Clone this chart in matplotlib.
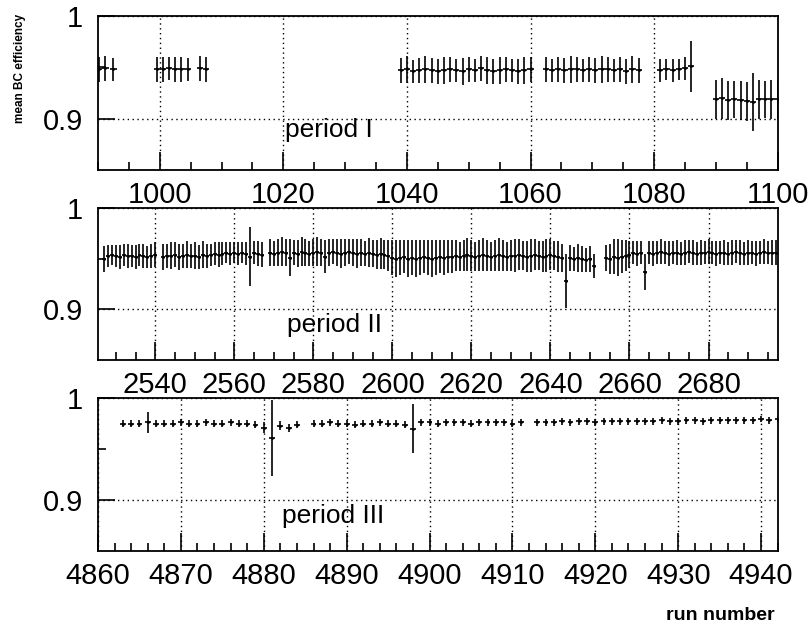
import numpy as np
import matplotlib
matplotlib.use("Agg")
import matplotlib.pyplot as plt
from matplotlib.ticker import MultipleLocator, FixedLocator, FixedFormatter

plt.rcParams['font.family'] = ['Liberation Sans', 'DejaVu Sans']

# ---- period I : run numbers, efficiency, error ----
p1_runs = np.concatenate([
    [990.2, 991.2, 992.5],
    np.arange(999.5, 1005),
    [1006.5, 1007.5],
    np.arange(1039, 1061),
    np.arange(1062.5, 1078),
    np.arange(1081, 1087),
    np.arange(1090, 1101),
])
p1_eff = [
    0.948, 0.949, 0.948,
    0.948, 0.948, 0.949, 0.948, 0.948, 0.948,
    0.949, 0.948,
    0.947, 0.948, 0.946, 0.947, 0.948, 0.947, 0.946, 0.947, 0.948, 0.947, 0.946,
    0.948, 0.947, 0.949, 0.947, 0.946, 0.947, 0.948, 0.947, 0.946, 0.947, 0.948,
    0.948, 0.947, 0.948, 0.947, 0.948, 0.948, 0.947, 0.948,
    0.947, 0.948, 0.948, 0.947, 0.948, 0.946, 0.948, 0.947,
    0.947, 0.948, 0.947, 0.948, 0.949, 0.951,
    0.919, 0.920, 0.918, 0.919, 0.918, 0.917, 0.916, 0.919, 0.919, 0.919, 0.919,
]
p1_err = [
    0.012, 0.012, 0.011,
    0.012, 0.012, 0.011, 0.012, 0.012, 0.011,
    0.012, 0.012,
    0.012, 0.013, 0.011, 0.012, 0.013, 0.012, 0.012, 0.013, 0.012, 0.011, 0.013,
    0.012, 0.011, 0.012, 0.013, 0.012, 0.013, 0.012, 0.011, 0.012, 0.013, 0.012,
    0.012, 0.011, 0.012, 0.012, 0.013, 0.012, 0.011, 0.012,
    0.012, 0.013, 0.012, 0.011, 0.012, 0.012, 0.013, 0.012,
    0.011, 0.010, 0.011, 0.010, 0.011, 0.025,
    0.019, 0.020, 0.019, 0.018, 0.019, 0.019, 0.028, 0.019, 0.018, 0.019, 0.019,
]

# ---- period II ----
p2_runs = np.concatenate([
    np.arange(2527, 2541),
    np.arange(2542, 2568),
    np.arange(2569, 2652),
    np.arange(2654, 2698),
])
p2_eff = [
    # 2527-2540
    0.950, 0.953, 0.954, 0.953, 0.952, 0.954, 0.953, 0.953, 0.952, 0.954, 0.953, 0.952, 0.953, 0.954,
    # 2542-2567
    0.952, 0.953, 0.953, 0.954, 0.952, 0.953, 0.954, 0.953, 0.953, 0.952, 0.954, 0.953, 0.954,
    0.955, 0.954, 0.955, 0.956, 0.955, 0.956, 0.955, 0.956, 0.955, 0.952, 0.956, 0.955, 0.954,
    # 2569-2599
    0.956, 0.955, 0.956, 0.957, 0.956, 0.951, 0.956, 0.955, 0.957, 0.956, 0.955, 0.956, 0.957,
    0.956, 0.952, 0.956, 0.957, 0.956, 0.955, 0.956, 0.957, 0.956, 0.955, 0.956, 0.955, 0.956,
    0.955, 0.954, 0.955, 0.954, 0.953,
    # 2600-2615
    0.951, 0.950, 0.951, 0.952, 0.950, 0.951, 0.950, 0.951, 0.952, 0.951, 0.950, 0.951, 0.952,
    0.951, 0.952, 0.952,
    # 2616-2643
    0.953, 0.952, 0.953, 0.954, 0.953, 0.952, 0.953, 0.954, 0.953, 0.952, 0.953, 0.954, 0.953,
    0.952, 0.953, 0.953, 0.954, 0.953, 0.952, 0.953, 0.954, 0.953, 0.952, 0.953, 0.954, 0.953,
    0.952, 0.951,
    # 2644-2651
    0.928, 0.951, 0.950, 0.951, 0.950, 0.949, 0.950, 0.943,
    # 2654-2660
    0.951, 0.950, 0.952, 0.951, 0.952, 0.953, 0.954,
    # 2661-2697
    0.956, 0.955, 0.956, 0.937, 0.956, 0.955, 0.956, 0.957, 0.956, 0.955, 0.956, 0.956, 0.955,
    0.956, 0.957, 0.956, 0.955, 0.956, 0.956, 0.957, 0.956, 0.955, 0.956, 0.956, 0.955, 0.956,
    0.957, 0.956, 0.955, 0.956, 0.956, 0.955, 0.956, 0.957, 0.956, 0.956, 0.956,
]
p2_err = [
    0.013, 0.011, 0.010, 0.011, 0.012, 0.011, 0.012, 0.011, 0.012, 0.011, 0.012, 0.011, 0.012, 0.012,
    0.013, 0.012, 0.013, 0.012, 0.013, 0.012, 0.013, 0.012, 0.013, 0.012, 0.013, 0.012, 0.011,
    0.011, 0.012, 0.011, 0.010, 0.011, 0.010, 0.011, 0.010, 0.011, 0.029, 0.011, 0.012, 0.012,
    0.013, 0.012, 0.013, 0.014, 0.013, 0.018, 0.012, 0.013, 0.014, 0.013, 0.012, 0.013, 0.014,
    0.013, 0.016, 0.013, 0.012, 0.013, 0.014, 0.013, 0.012, 0.013, 0.014, 0.013, 0.012, 0.014,
    0.013, 0.014, 0.015, 0.014, 0.015,
    0.017, 0.018, 0.017, 0.016, 0.018, 0.017, 0.018, 0.017, 0.016, 0.017, 0.018, 0.017, 0.016,
    0.017, 0.016, 0.016,
    0.015, 0.014, 0.015, 0.016, 0.015, 0.014, 0.015, 0.016, 0.015, 0.014, 0.015, 0.016, 0.015,
    0.014, 0.015, 0.016, 0.015, 0.014, 0.015, 0.016, 0.015, 0.014, 0.015, 0.016, 0.015, 0.014,
    0.015, 0.014,
    0.027, 0.013, 0.012, 0.014, 0.013, 0.012, 0.013, 0.012,
    0.013, 0.015, 0.017, 0.018, 0.016, 0.015, 0.013,
    0.011, 0.012, 0.011, 0.018, 0.011, 0.012, 0.011, 0.012, 0.011, 0.012, 0.011, 0.012, 0.011,
    0.012, 0.011, 0.012, 0.011, 0.012, 0.011, 0.012, 0.011, 0.012, 0.011, 0.012, 0.011, 0.012,
    0.011, 0.012, 0.011, 0.012, 0.011, 0.012, 0.011, 0.012, 0.011, 0.012, 0.012,
]

# ---- period III ----
p3_runs = np.concatenate([
    [4863],
    np.arange(4864, 4885),
    np.arange(4886, 4912),
    np.arange(4913, 4943),
])
p3_eff = [
    0.975,
    0.975, 0.975, 0.976, 0.975, 0.975, 0.975, 0.976, 0.975, 0.975, 0.976, 0.975, 0.975, 0.976,
    0.975, 0.975, 0.974,
    0.971, 0.961, 0.973, 0.971, 0.974,
    0.975, 0.975, 0.976, 0.975, 0.975, 0.974, 0.975, 0.975, 0.976, 0.975, 0.975, 0.974,
    0.970,
    0.976, 0.976, 0.975, 0.976, 0.976, 0.976, 0.975, 0.976, 0.976, 0.976, 0.976, 0.975, 0.976,
    0.976, 0.976, 0.976, 0.977, 0.976, 0.977, 0.977, 0.976, 0.977, 0.977, 0.977, 0.977, 0.977,
    0.977, 0.977, 0.978, 0.977, 0.977, 0.978, 0.978, 0.977, 0.978, 0.978, 0.978, 0.978, 0.978,
    0.978, 0.979, 0.978, 0.979,
]
p3_err = [
    0.003,
    0.003, 0.003, 0.010, 0.003, 0.003, 0.003, 0.003, 0.003, 0.003, 0.003, 0.003, 0.003, 0.003,
    0.003, 0.003, 0.003,
    0.005, 0.037, 0.004, 0.004, 0.003,
    0.003, 0.003, 0.003, 0.003, 0.003, 0.003, 0.003, 0.003, 0.003, 0.003, 0.003, 0.003,
    0.024,
    0.003, 0.003, 0.003, 0.003, 0.003, 0.003, 0.003, 0.003, 0.003, 0.003, 0.003, 0.003, 0.003,
    0.003, 0.003, 0.003, 0.003, 0.003, 0.003, 0.003, 0.003, 0.003, 0.003, 0.003, 0.003, 0.003,
    0.003, 0.003, 0.003, 0.003, 0.003, 0.003, 0.003, 0.003, 0.003, 0.003, 0.003, 0.003, 0.003,
    0.003, 0.003, 0.003, 0.003,
]

panels = [
    # runs, eff, err, xerr, xlim, major, minor, label
    (p1_runs, p1_eff, p1_err, 0.5, (990, 1100), 20, 5, "period I"),
    (p2_runs, p2_eff, p2_err, 0.5, (2525.5, 2697.5), 20, 5, "period II"),
    (p3_runs, p3_eff, p3_err, 0.35, (4860, 4942), 10, 2, "period III"),
]
# axes boxes in figure fraction [left, bottom, width, height]
boxes = [
    [0.1207, 0.729, 0.837, 0.2456],
    [0.1207, 0.4258, 0.837, 0.2424],
    [0.1207, 0.1212, 0.837, 0.244],
]
text_pos = [(0.275, 0.26), (0.278, 0.23), (0.27, 0.23)]

fig = plt.figure(figsize=(8.12, 6.27), dpi=100)

for (runs, eff, err, xerr, xlim, major, minor, label), box, tp in zip(panels, boxes, text_pos):
    ax = fig.add_axes(box)
    ax.errorbar(runs, eff, yerr=err, xerr=xerr, fmt='.', ms=2, color='black',
                ecolor='black', elinewidth=1.2, capsize=0)
    ax.set_xlim(*xlim)
    ax.set_ylim(0.85, 1.0)
    ax.xaxis.set_major_locator(MultipleLocator(major))
    ax.xaxis.set_minor_locator(MultipleLocator(minor))
    ax.yaxis.set_major_locator(FixedLocator([0.9, 1.0]))
    ax.yaxis.set_major_formatter(FixedFormatter(['0.9', '1']))
    ax.yaxis.set_minor_locator(FixedLocator([0.95]))
    ax.tick_params(which='both', direction='in', top=False, right=False,
                   labelsize=21, color='black', width=1.2)
    ax.tick_params(axis='x', which='major', length=13, pad=8)
    ax.tick_params(axis='x', which='minor', length=6)
    ax.tick_params(axis='y', which='major', length=12, pad=11)
    ax.tick_params(axis='y', which='minor', length=6)
    ax.grid(True, which='major', color='black', linestyle=(0, (1, 2.5)), linewidth=1.0)
    for sp in ax.spines.values():
        sp.set_linewidth(1.3)
    ax.text(tp[0], tp[1], label, transform=ax.transAxes, fontsize=19,
            ha='left', va='center')

fig.text(0.0246, 0.8915, "mean BC efficiency", rotation=90, fontsize=8.5,
         fontweight='bold', ha='center', va='center')
fig.text(0.954, 0.019, "run number", fontsize=14, fontweight='bold',
         ha='right', va='center')

fig.savefig("out.png", dpi=100)
